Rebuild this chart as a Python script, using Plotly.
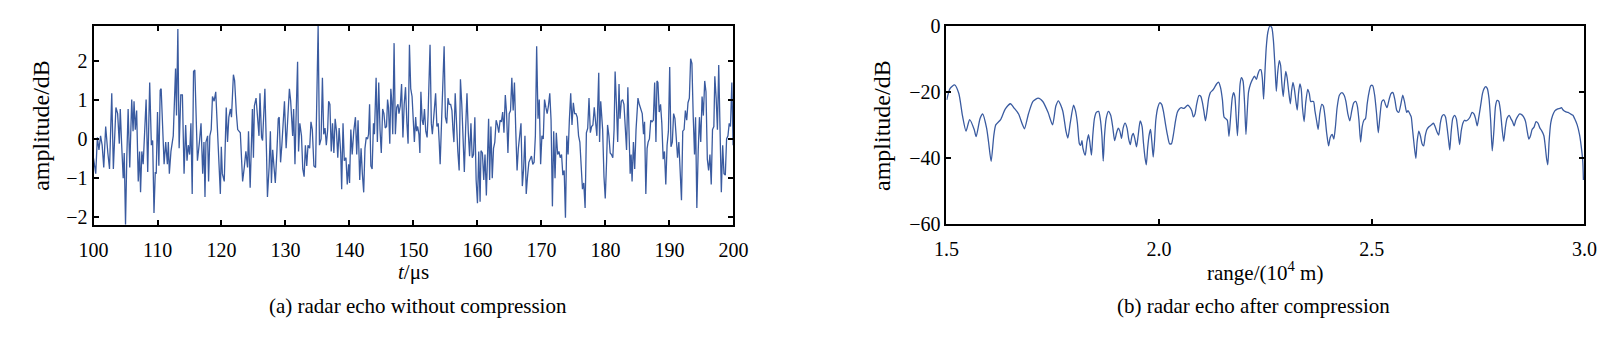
import plotly.graph_objects as go

# ---------------- (a) radar echo without compression ----------------
echo_t = [100.0, 100.35, 100.6, 100.85, 101.1, 101.35, 101.6, 101.9, 102.24, 102.5, 102.85, 103.1, 103.5, 103.77, 104.03, 104.18, 104.39, 104.64, 104.8, 105.0,
          105.2, 105.41, 105.66, 105.97, 106.18, 106.33, 106.53, 106.74, 106.99, 107.2, 107.35, 107.55, 107.76, 107.96, 108.22, 108.47, 108.78, 109.04, 109.24, 109.45,
          109.65, 109.8, 110.0, 110.21, 110.42, 110.57, 110.77, 111.03, 111.28, 111.54, 111.69, 111.85, 112.1, 112.46, 112.82, 112.97, 113.18, 113.38, 113.64, 113.89,
          114.15, 114.4, 114.61, 114.81, 115.02, 115.22, 115.42, 115.63, 115.83, 116.04, 116.24, 116.55, 116.8, 117.06, 117.26, 117.42, 117.57, 117.83, 117.98, 118.18,
          118.39, 118.59, 118.85, 119.1, 119.36, 119.61, 119.82, 119.97, 120.13, 120.43, 120.74, 120.94, 121.15, 121.4, 121.56, 121.86, 122.05, 122.33, 122.53, 122.94,
          123.1, 123.3, 123.56, 123.81, 124.07, 124.22, 124.48, 124.68, 124.83, 124.99, 125.14, 125.4, 125.6, 125.86, 126.01, 126.26, 126.42, 126.78, 127.03, 127.18,
          127.44, 127.64, 127.8, 128.0, 128.21, 128.41, 128.67, 128.87, 129.02, 129.23, 129.43, 129.64, 129.84, 130.1, 130.35, 130.61, 130.81, 131.12, 131.27, 131.48,
          131.68, 131.89, 132.04, 132.24, 132.5, 132.7, 132.91, 133.11, 133.32, 133.52, 133.78, 133.98, 134.19, 134.44, 134.7, 134.9, 135.1, 135.31, 135.56, 135.77,
          135.97, 136.18, 136.38, 136.59, 136.74, 136.94, 137.15, 137.35, 137.56, 137.76, 137.97, 138.17, 138.38, 138.63, 138.78, 138.99, 139.19, 139.45, 139.65, 139.86,
          140.01, 140.21, 140.42, 140.67, 140.93, 141.13, 141.34, 141.6, 141.81, 142.01, 142.22, 142.42, 142.62, 142.83, 142.98, 143.14, 143.34, 143.54, 143.75, 143.9,
          144.16, 144.36, 144.57, 144.77, 144.97, 145.18, 145.38, 145.59, 145.79, 145.95, 146.1, 146.3, 146.46, 146.61, 146.76, 146.97, 147.17, 147.38, 147.58, 147.73,
          147.94, 148.14, 148.35, 148.55, 148.76, 148.96, 149.16, 149.37, 149.57, 149.78, 149.93, 150.14, 150.34, 150.49, 150.65, 150.85, 151.0, 151.16, 151.36, 151.52,
          151.72, 151.92, 152.13, 152.28, 152.59, 152.79, 152.95, 153.1, 153.25, 153.46, 153.66, 153.87, 154.02, 154.17, 154.38, 154.79, 154.99, 155.2, 155.4, 155.6,
          155.81, 156.01, 156.17, 156.32, 156.52, 156.73, 156.93, 157.14, 157.34, 157.55, 157.75, 157.95, 158.16, 158.36, 158.57, 158.77, 158.98, 159.18, 159.38, 159.59,
          159.79, 160.0, 160.2, 160.41, 160.55, 160.77, 160.98, 161.18, 161.39, 161.59, 161.74, 161.9, 162.1, 162.31, 162.51, 162.71, 162.92, 163.12, 163.33, 163.53,
          163.74, 163.94, 164.14, 164.35, 164.55, 164.76, 164.96, 165.17, 165.37, 165.58, 165.78, 165.98, 166.19, 166.39, 166.6, 166.8, 167.01, 167.21, 167.42, 167.62,
          167.82, 168.03, 168.23, 168.44, 168.64, 168.85, 169.05, 169.25, 169.46, 169.66, 169.87, 170.07, 170.28, 170.48, 170.69, 170.89, 171.09, 171.3, 171.5, 171.71,
          171.91, 172.12, 172.32, 172.53, 172.73, 172.93, 173.14, 173.34, 173.55, 173.75, 173.96, 174.16, 174.36, 174.57, 174.77, 174.98, 175.18, 175.39, 175.59, 175.8,
          176.0, 176.2, 176.41, 176.61, 176.82, 177.02, 177.23, 177.43, 177.64, 177.84, 178.04, 178.25, 178.45, 178.66, 178.95, 179.08, 179.26, 179.41, 179.56, 179.77,
          179.97, 180.18, 180.33, 180.54, 180.74, 180.94, 181.15, 181.35, 181.51, 181.71, 181.91, 182.12, 182.27, 182.48, 182.68, 182.89, 183.09, 183.3, 183.5, 183.7,
          183.86, 184.01, 184.16, 184.37, 184.57, 184.78, 184.93, 185.08, 185.29, 185.54, 185.75, 185.95, 186.11, 186.31, 186.51, 186.67, 186.87, 187.08, 187.28, 187.48,
          187.69, 187.89, 188.05, 188.2, 188.4, 188.61, 188.81, 189.02, 189.22, 189.43, 189.63, 189.84, 190.04, 190.24, 190.45, 190.65, 190.86, 191.06, 191.27, 191.47,
          191.68, 191.88, 192.08, 192.29, 192.49, 192.7, 192.9, 193.11, 193.31, 193.51, 193.72, 193.92, 194.08, 194.28, 194.49, 194.69, 194.89, 195.1, 195.3, 195.51,
          195.71, 195.92, 196.12, 196.33, 196.53, 196.73, 196.94, 197.09, 197.3, 197.5, 197.7, 197.91, 198.11, 198.32, 198.52, 198.73, 198.93, 199.14, 199.34, 199.54,
          199.75, 199.95]
echo_amp = [-0.5, -0.89, 0.04, -0.28, 0.08, -0.16, -0.73, 0.32, -0.36, -0.77, 1.17, -0.77, 0.81, 0.65, -0.12, 0.77, -0.12, -1.01, -0.36, -2.2,
            -0.48, 0.77, -0.73, 1.01, 0.2, 0.97, 0.24, 0.73, -1.09, -0.32, -1.37, -0.32, -0.65, 0.24, 1.01, -0.85, 1.45, -0.16, -0.04, -1.9,
            -0.85, -0.89, 0.69, -0.69, 1.25, 1.29, 0.28, -0.65, -0.08, -0.65, -0.08, -0.89, -0.32, 0.08, 1.81, 0.6, 2.82, -0.24, 1.13, 1.13,
            -0.89, 0.36, -0.56, -0.16, -0.4, 0.4, -1.41, 1.73, 1.77, 0.65, -0.56, -0.08, 0.4, -0.89, -0.08, -1.49, -0.08, 0.08, -1.09, 0.08,
            0.24, 1.09, 0.97, 1.21, 0.24, -0.65, -1.41, -0.2, -0.89, -1.09, 0.81, -0.08, 0.56, 0.77, 0.56, 1.65, 1.5, 0.65, 0.24, 0.16,
            -0.48, -1.09, -0.73, -0.32, -0.73, 0.2, -1.25, 0.08, 0.77, -0.48, 0.85, 1.05, 0.65, 0.08, 1.17, 0.04, -0.04, 1.29, -0.32, -1.49,
            -0.73, 0.2, -1.13, -0.28, -0.73, -1.13, -0.28, 0.52, 0.56, -0.6, -0.16, 0.48, 0.97, -0.24, 0.65, 1.29, 0.97, 0.08, 0.77, -0.65,
            0.73, 1.98, -0.32, 0.4, 0.08, -0.77, -0.97, -0.16, -0.69, -0.16, -0.24, 0.44, 0.24, -0.69, -0.73, 0.89, 2.9, -0.16, 0.0, 1.57,
            0.12, 0.28, -0.16, 0.24, 0.97, 0.89, -0.32, 0.4, -0.36, 0.52, 0.2, -0.48, 0.28, -0.36, -1.29, 0.4, -0.56, -0.48, -1.17, -0.65,
            -1.13, 0.24, -0.4, 0.2, 0.56, -0.4, 0.48, -1.05, -0.24, -0.89, -1.37, -0.24, 0.04, 0.0, 0.12, 0.89, -0.69, -0.77, 0.4, 0.12,
            1.57, -0.08, 1.45, 0.24, -0.36, 0.77, 0.65, 0.28, 0.32, 1.01, 0.81, -0.12, 1.29, 0.97, 0.12, 2.46, 0.12, 0.81, 0.89, 0.65,
            0.85, 1.41, 0.04, 0.89, 1.33, 0.44, -0.12, 2.42, 1.29, 1.09, 0.48, -0.08, 0.56, 0.2, 0.32, 0.12, -0.36, 1.21, 0.48, 0.36,
            0.77, 0.2, 0.04, 0.6, 2.42, 0.4, 0.12, 0.52, 0.65, 1.17, 0.32, 0.4, -0.08, -0.65, 0.4, 2.38, 0.56, 0.4, 1.05, 0.89,
            0.89, 0.73, 0.24, -0.08, 1.17, 0.24, -0.32, -0.81, 1.53, 0.89, 0.08, -0.85, 0.32, 1.17, 0.16, -0.44, 0.4, -0.48, -0.4, 0.56,
            -1.05, -1.65, -0.32, -1.61, -0.3, -0.36, -1.05, -0.4, -1.45, -0.08, 0.52, -1.05, 0.32, -1.01, -0.24, -0.08, 0.48, 0.36, 0.16, 0.48,
            0.44, 0.69, 0.16, 1.13, 0.65, -0.36, 0.65, 0.73, 1.57, 0.73, 1.45, 0.24, -0.81, -0.24, 0.12, 0.4, -1.21, -0.77, 0.08, -1.41,
            -0.97, -0.6, -0.52, -0.44, -0.65, -0.6, 0.08, 2.38, 0.52, 1.01, -0.65, 0.08, 0.0, 1.01, 0.81, 0.65, 0.85, 1.17, 0.48, -1.73,
            0.2, -1.01, 0.16, -0.4, -0.32, -0.48, -0.4, -0.93, -0.81, -2.02, 0.08, -0.4, 0.48, 1.17, 0.36, 0.93, 0.65, 0.65, 0.56, 0.08,
            -0.08, -0.73, -1.29, -1.13, -1.77, 0.16, 0.28, 1.05, 0.16, 0.32, 0.36, 0.81, 0.48, 0.08, 1.7, -0.08, 0.97, 0.65, 0.24, -0.97,
            -1.53, -0.56, 0.36, 0.08, -0.36, -0.4, -0.48, 0.24, 1.73, 0.89, -0.08, 1.41, 0.52, 0.97, 1.01, 0.89, 0.24, -0.28, 1.33, -0.08,
            -0.89, -0.4, -1.09, -0.08, -0.77, 0.24, 0.69, 1.05, 0.89, 0.73, 0.65, 0.12, 0.44, -1.41, -0.24, -0.08, 0.0, 0.48, 0.44, 0.48,
            1.45, -0.08, 1.49, 1.45, 0.69, 0.89, 0.4, -0.52, -0.32, -1.17, -0.16, 0.2, 1.85, -0.2, -0.08, 0.65, 0.52, 0.04, -0.48, -0.08,
            -0.97, -1.57, 0.2, 0.24, 0.73, 0.48, 0.93, 1.05, 2.06, 1.94, 0.56, -0.4, 0.56, -1.77, -0.32, 0.56, -0.08, 1.09, 0.6, 1.49,
            1.21, -0.52, -0.81, -0.4, -1.17, 0.24, 0.32, 1.61, 1.05, 0.24, 1.9, 0.08, -1.37, -0.16, -0.89, -0.93, 0.0, 0.08, 0.4, 0.32,
            1.45, -0.16]

# ---------------- (b) radar echo after compression ----------------
comp_range = [1.5008, 1.5084, 1.5192, 1.5292, 1.5376, 1.5461, 1.5545, 1.5653, 1.5699, 1.5791, 1.5853, 1.5945, 1.5991, 1.6052, 1.6114, 1.616, 1.6275, 1.6382, 1.6505, 1.6598,
              1.6697, 1.679, 1.6836, 1.6928, 1.7035, 1.7158, 1.7266, 1.7389, 1.7496, 1.7573, 1.7634, 1.7734, 1.7811, 1.7855, 1.7911, 1.7988, 1.8034, 1.808, 1.8126, 1.8157,
              1.8187, 1.821, 1.8264, 1.8303, 1.8341, 1.8372, 1.841, 1.8441, 1.848, 1.8525, 1.8579, 1.8617, 1.8656, 1.8687, 1.8717, 1.8756, 1.8809, 1.8863, 1.8909, 1.8955,
              1.9001, 1.904, 1.9078, 1.9117, 1.9155, 1.9201, 1.9247, 1.9286, 1.9324, 1.9363, 1.9393, 1.9432, 1.947, 1.9508, 1.9555, 1.9601, 1.9631, 1.967, 1.97, 1.9731,
              1.9769, 1.98, 1.9831, 1.9862, 1.9892, 1.9923, 1.9969, 2.0015, 2.0061, 2.0107, 2.0154, 2.02, 2.0246, 2.0292, 2.0338, 2.0384, 2.043, 2.0476, 2.0522, 2.0584,
              2.063, 2.0676, 2.0722, 2.0768, 2.0806, 2.0845, 2.0883, 2.0937, 2.0983, 2.1014, 2.1052, 2.1091, 2.1129, 2.1167, 2.1206, 2.126, 2.1306, 2.1352, 2.1398, 2.1444,
              2.149, 2.1528, 2.1567, 2.1605, 2.1644, 2.1682, 2.172, 2.1751, 2.1782, 2.1813, 2.1843, 2.1874, 2.1905, 2.1936, 2.1974, 2.2012, 2.2043, 2.2074, 2.2104, 2.215,
              2.2197, 2.2243, 2.2289, 2.232, 2.2366, 2.2396, 2.2427, 2.2458, 2.2488, 2.2519, 2.2558, 2.2604, 2.265, 2.2688, 2.2726, 2.2757, 2.2788, 2.2826, 2.2857, 2.2888,
              2.2918, 2.2949, 2.298, 2.3011, 2.3049, 2.3087, 2.3118, 2.3149, 2.318, 2.3218, 2.3249, 2.3279, 2.331, 2.3341, 2.3372, 2.341, 2.3448, 2.3495, 2.3533, 2.3564,
              2.3594, 2.3633, 2.3664, 2.3702, 2.374, 2.3779, 2.3825, 2.3863, 2.3902, 2.394, 2.3986, 2.4024, 2.4071, 2.4109, 2.4147, 2.4186, 2.4239, 2.4301, 2.4355, 2.4393,
              2.4439, 2.4485, 2.4531, 2.4577, 2.4624, 2.4662, 2.47, 2.4739, 2.4777, 2.4816, 2.4854, 2.4892, 2.4931, 2.4977, 2.5023, 2.5069, 2.5115, 2.5154, 2.5192, 2.5238,
              2.5284, 2.5323, 2.5361, 2.5407, 2.5453, 2.5499, 2.5545, 2.5591, 2.5637, 2.5684, 2.573, 2.5776, 2.5822, 2.5853, 2.5898, 2.5929, 2.596, 2.5998, 2.6037, 2.6067,
              2.6106, 2.6144, 2.6183, 2.6221, 2.6259, 2.6298, 2.6352, 2.6405, 2.6451, 2.649, 2.6528, 2.6574, 2.6613, 2.6651, 2.6697, 2.6735, 2.6774, 2.6812, 2.6835, 2.6866,
              2.6905, 2.6951, 2.6989, 2.7028, 2.7066, 2.7104, 2.7143, 2.7181, 2.722, 2.7266, 2.7312, 2.7358, 2.7404, 2.7442, 2.7481, 2.7519, 2.7565, 2.7604, 2.7642, 2.768,
              2.7719, 2.7757, 2.7796, 2.7834, 2.7872, 2.7911, 2.7949, 2.7988, 2.8026, 2.8064, 2.8103, 2.8141, 2.818, 2.8233, 2.8272, 2.831, 2.8349, 2.8387, 2.8433, 2.8479,
              2.8525, 2.8571, 2.8617, 2.8656, 2.8694, 2.8733, 2.8771, 2.8817, 2.8863, 2.8909, 2.8955, 2.9001, 2.9048, 2.9078, 2.9109, 2.914, 2.917, 2.9209, 2.9255, 2.9309,
              2.9363, 2.9424, 2.9462, 2.9501, 2.9555, 2.9616, 2.9677, 2.9731, 2.977, 2.9831, 2.9885, 2.9923, 2.9962, 2.9977]
comp_db = [-22.4, -19.0, -17.9, -20.5, -27.1, -31.9, -28.4, -31.4, -33.6, -28.1, -26.7, -31.0, -35.2, -41.1, -33.3, -30.0, -28.4, -25.2, -23.6, -25.0,
           -26.7, -30.0, -31.2, -26.7, -22.9, -21.9, -22.9, -26.2, -30.0, -24.3, -22.7, -25.7, -31.9, -34.0, -29.5, -24.0, -25.7, -29.5, -35.7, -36.2,
           -34.8, -37.1, -39.2, -35.2, -33.0, -35.2, -39.2, -33.3, -28.1, -26.2, -25.9, -28.1, -33.3, -41.0, -33.3, -28.1, -25.9, -27.1, -30.5, -34.8,
           -32.4, -31.0, -31.9, -34.1, -31.0, -29.5, -31.0, -34.3, -36.0, -33.3, -32.6, -34.3, -36.7, -33.3, -28.8, -30.5, -35.2, -40.0, -42.1, -37.1,
           -32.9, -31.4, -35.2, -39.8, -35.2, -28.6, -24.8, -23.3, -23.8, -26.2, -30.0, -33.3, -35.7, -35.7, -32.9, -29.0, -26.2, -25.2, -24.8, -25.0,
           -24.5, -24.0, -24.6, -25.7, -27.6, -26.7, -23.8, -21.1, -21.4, -22.9, -25.7, -28.8, -25.7, -21.9, -20.2, -19.5, -18.6, -17.6, -17.0, -18.6,
           -22.4, -27.6, -28.1, -28.6, -33.5, -27.6, -21.9, -20.2, -21.4, -27.6, -33.3, -25.7, -17.6, -15.7, -16.7, -23.8, -32.9, -25.7, -20.0, -17.6,
           -16.2, -15.2, -16.2, -14.8, -13.3, -13.3, -15.7, -22.2, -14.3, -6.7, -1.9, 0.0, -0.5, -4.3, -12.4, -19.8, -14.3, -10.5, -11.9, -17.6,
           -21.4, -17.1, -13.8, -15.7, -20.0, -23.6, -19.5, -17.1, -19.0, -22.9, -25.5, -20.5, -17.6, -19.0, -24.8, -29.0, -23.3, -19.2, -20.5, -22.9,
           -22.9, -22.9, -25.7, -28.6, -31.4, -26.7, -23.8, -24.3, -27.6, -32.4, -36.4, -33.8, -32.9, -34.3, -30.5, -24.8, -21.0, -20.2, -21.1, -22.9,
           -26.7, -28.8, -25.7, -23.3, -22.9, -24.3, -28.6, -35.2, -30.5, -28.6, -28.1, -23.8, -20.5, -18.1, -18.1, -21.0, -26.7, -32.4, -27.6, -22.9,
           -22.4, -23.8, -24.8, -22.4, -20.5, -20.2, -22.4, -25.7, -26.2, -23.8, -21.0, -23.3, -26.2, -25.7, -26.7, -27.6, -31.4, -36.2, -40.2, -35.2,
           -31.9, -33.3, -35.7, -36.4, -33.3, -31.4, -30.5, -30.0, -29.5, -30.5, -31.9, -33.1, -29.5, -27.4, -26.9, -27.6, -31.0, -35.2, -37.6, -32.4,
           -28.1, -27.1, -28.1, -31.9, -36.0, -31.9, -29.5, -28.6, -28.8, -28.4, -27.6, -26.2, -26.7, -28.1, -30.3, -27.6, -23.8, -20.5, -19.0, -18.4,
           -19.0, -21.9, -28.6, -37.9, -31.9, -24.3, -22.6, -22.9, -25.7, -31.0, -35.0, -31.0, -28.1, -27.1, -28.1, -29.0, -30.3, -28.6, -27.4, -26.7,
           -26.9, -27.6, -29.0, -31.9, -34.3, -33.3, -31.4, -30.7, -29.0, -29.5, -31.0, -31.9, -33.3, -36.2, -40.0, -42.1, -35.2, -29.5, -27.1, -25.7,
           -25.2, -25.0, -24.8, -25.5, -26.0, -26.2, -26.7, -27.1, -28.1, -30.0, -32.9, -36.2, -41.0, -46.7]

left_xticks = [100, 110, 120, 130, 140, 150, 160, 170, 180, 190, 200]
left_yticks = [-2, -1, 0, 1, 2]
right_xticks = [1.5, 2.0, 2.5, 3.0]
right_yticks = [0, -20, -40, -60]

LINE = "#3a5ba0"
FONT = "Liberation Serif"

fig = go.Figure()
fig.add_trace(go.Scatter(x=echo_t, y=echo_amp, mode="lines",
                         line=dict(color=LINE, width=1.3), xaxis="x", yaxis="y",
                         showlegend=False))
fig.add_trace(go.Scatter(x=comp_range, y=comp_db, mode="lines",
                         line=dict(color=LINE, width=1.3, shape="spline", smoothing=0.6),
                         xaxis="x2", yaxis="y2", showlegend=False))

axis_common = dict(showline=True, linecolor="black", linewidth=2, mirror="ticks",
                   ticks="inside", ticklen=5, tickwidth=1.5, tickcolor="black",
                   showgrid=False, zeroline=False,
                   tickfont=dict(family=FONT, size=20, color="black"))

fig.update_layout(
    width=1619, height=350,
    margin=dict(l=0, r=0, t=0, b=0),
    paper_bgcolor="white", plot_bgcolor="white",
    font=dict(family=FONT, color="black"),
    xaxis=dict(domain=[80/1619, 732/1619], range=[100, 200], tickvals=left_xticks,
               anchor="y", ticklabelstandoff=6, **axis_common),
    yaxis=dict(domain=[122/350, 334/350], range=[-2.2, 2.9], tickvals=left_yticks,
               anchor="x", **axis_common),
    xaxis2=dict(domain=[949/1619, 1599/1619], range=[1.5, 3.0], tickvals=right_xticks,
                tickformat=".1f", anchor="y2", ticklabelstandoff=6, **axis_common),
    yaxis2=dict(domain=[123/350, 334/350], range=[-60, 0], tickvals=right_yticks,
                anchor="x2", **axis_common),
)

ylab_font = dict(family=FONT, size=24, color="black")
txt_font = dict(family=FONT, size=21, color="black")
annotations = [
    dict(text="amplitude/dB", x=27/1619, y=(350-122)/350, textangle=-90, font=ylab_font),
    dict(text="amplitude/dB", x=884/1619, y=(350-122)/350, textangle=-90, font=ylab_font),
    dict(text="<i>t</i>/μs", x=406/1619, y=(350-278)/350, font=txt_font),
    dict(text="range/(10<sup>4</sup> m)", x=1274/1619, y=(350-278)/350, font=txt_font),
    dict(text="(a) radar echo without compression", x=411/1619, y=(350-315)/350, font=txt_font),
    dict(text="(b) radar echo after compression", x=1262/1619, y=(350-315)/350, font=txt_font),
]
for a in annotations:
    fig.add_annotation(xref="paper", yref="paper", showarrow=False,
                       xanchor="center", yanchor="middle", **a)

fig.write_html("out.html")
